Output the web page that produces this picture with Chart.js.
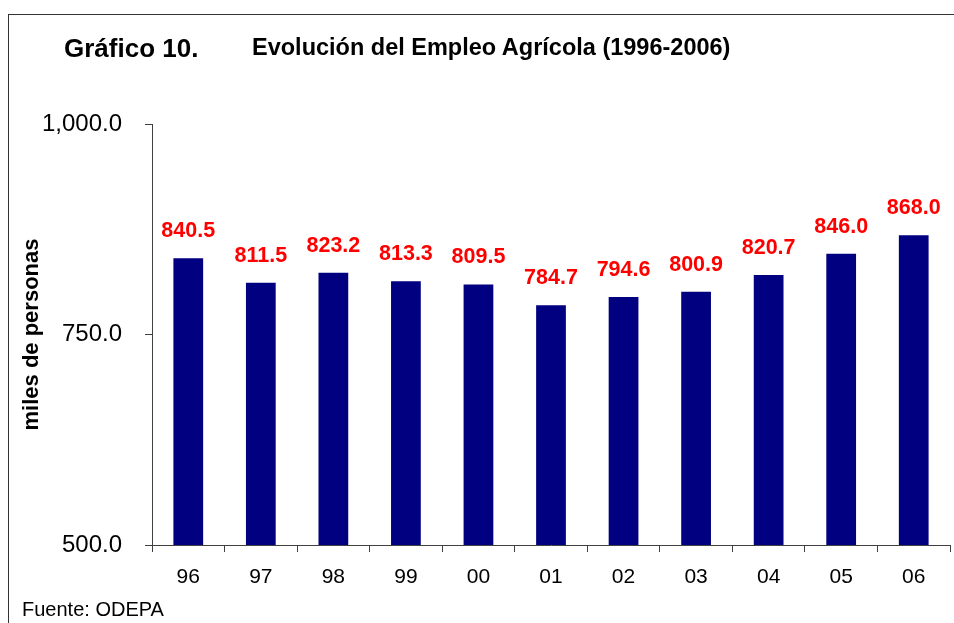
<!DOCTYPE html>
<html>
<head>
<meta charset="utf-8">
<script src="https://cdn.jsdelivr.net/npm/chart.js@4"></script>
<style>
  body { margin: 0; background: #fff; overflow: hidden; }
  #wrap { position: relative; width: 954px; height: 623px; font-family: "Liberation Sans", Arial, sans-serif; }
  #frame { position: absolute; left: 8px; top: 14px; width: 960px; height: 640px; border: 1px solid #333; }
  .txt { position: absolute; white-space: nowrap; color: #000; line-height: 30px; }
  #num { left: 64px; top: 33px; font-size: 26px; font-weight: bold; }
  #title { left: 252px; top: 32px; font-size: 23.5px; font-weight: bold; }
  #src { left: 22px; top: 594px; font-size: 20px; }
  canvas { position: absolute; left: 0; top: 0; }
</style>
</head>
<body>
<div id="wrap">
  <div id="frame"></div>
  <canvas id="grafico" width="954" height="623"></canvas>
  <div class="txt" id="num">Gráfico 10.</div>
  <div class="txt" id="title">Evolución del Empleo Agrícola (1996-2006)</div>
  <div class="txt" id="src">Fuente: ODEPA</div>
</div>
<script>
// Datos del gráfico
var anios = ["96", "97", "98", "99", "00", "01", "02", "03", "04", "05", "06"];
var empleo = [840.5, 811.5, 823.2, 813.3, 809.5, 784.7, 794.6, 800.9, 820.7, 846.0, 868.0];
var ejeY = [500, 750, 1000];

var fuente = "'Liberation Sans', Arial, sans-serif";
var gris = "#404040";

// Etiquetas rojas encima de cada barra
var etiquetas = {
  id: "etiquetas",
  afterDatasetsDraw: function (chart) {
    var ctx = chart.ctx;
    var meta = chart.getDatasetMeta(0);
    ctx.save();
    ctx.fillStyle = "#ff0000";
    ctx.font = "bold 21.5px " + fuente;
    ctx.textAlign = "center";
    ctx.textBaseline = "middle";
    meta.data.forEach(function (bar, i) {
      ctx.fillText(empleo[i].toFixed(1), bar.x, bar.y - 27);
    });
    ctx.restore();
  },
};

var ctx = document.getElementById("grafico").getContext("2d");
var grafico = new Chart(ctx, {
  type: "bar",
  data: {
    labels: anios,
    datasets: [
      {
        data: empleo,
        backgroundColor: "#000080",
        borderWidth: 0,
        barPercentage: 0.41,
        categoryPercentage: 1.0,
      },
    ],
  },
  options: {
    responsive: false,
    animation: false,
    layout: { padding: { left: 15, top: 124, right: 4, bottom: 34 } },
    plugins: {
      legend: { display: false },
      tooltip: { enabled: false },
    },
    scales: {
      x: {
        afterFit: function (scale) { scale.height = 44; },
        border: { display: true, color: gris, width: 1 },
        grid: { display: true, drawOnChartArea: false, offset: true, tickLength: 7, color: gris },
        ticks: { color: "#000", padding: 13, font: { family: fuente, size: 21 } },
      },
      y: {
        min: ejeY[0],
        max: ejeY[ejeY.length - 1],
        afterFit: function (scale) { scale.width = 137; },
        afterBuildTicks: function (scale) {
          scale.ticks = ejeY.map(function (v) { return { value: v }; });
        },
        border: { display: true, color: gris, width: 1 },
        grid: { display: true, drawOnChartArea: false, tickLength: 7, color: gris },
        ticks: {
          color: "#000",
          padding: 23,
          font: { family: fuente, size: 24 },
          callback: function (v) {
            return v.toLocaleString("en-US", { minimumFractionDigits: 1, maximumFractionDigits: 1 });
          },
        },
        title: {
          display: true,
          text: "miles de personas",
          color: "#000",
          padding: { top: 4, bottom: 4 },
          font: { family: fuente, size: 22, weight: "bold" },
        },
      },
    },
  },
  plugins: [etiquetas],
});
</script>
</body>
</html>
